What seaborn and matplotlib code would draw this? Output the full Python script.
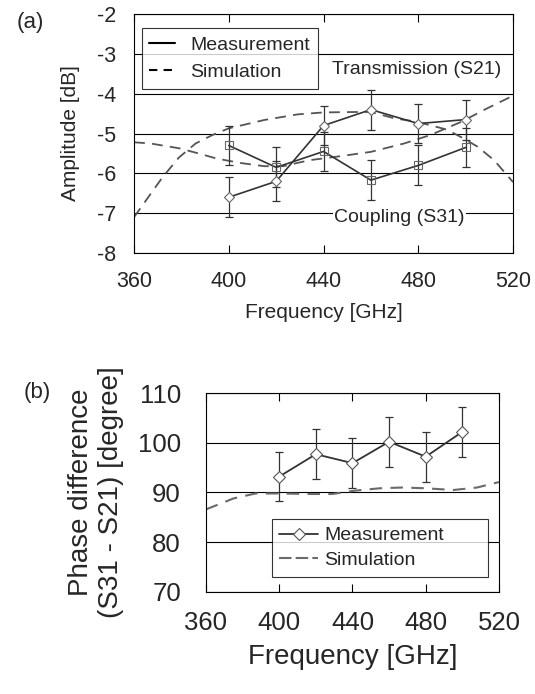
# S21 / S31 amplitude and phase difference vs frequency
import numpy as np
import pandas as pd
import matplotlib
matplotlib.use("Agg")
import matplotlib.pyplot as plt
import seaborn as sns
from matplotlib.lines import Line2D

sns.set_theme(style="white")
plt.rcParams['font.family'] = ['Liberation Sans', 'DejaVu Sans']
plt.rcParams['axes.unicode_minus'] = False

# measured frequencies [GHz]
freq_meas = [400, 420, 440, 460, 480, 500]

# (a) amplitude [dB]
s21_meas = [-6.6, -6.2, -4.8, -4.4, -4.75, -4.65]
s31_meas = [-5.3, -5.85, -5.45, -6.17, -5.8, -5.35]
amp_err = [0.5, 0.5, 0.5, 0.5, 0.5, 0.5]

# (a) simulation curves
freq_sim_a = [360, 366, 372, 379, 386, 393, 400, 415, 429, 440, 453, 460,
              470, 479, 492, 499, 505, 512, 520]
s21_sim = [-7.1, -6.6, -6.1, -5.6, -5.25, -5.04, -4.87, -4.66, -4.52, -4.47,
           -4.46, -4.46, -4.62, -4.7, -4.9, -5.12, -5.33, -5.67, -6.22]
freq_sim_c = [360, 367, 379, 386, 395, 405, 415, 423, 434, 447, 460, 474,
              485, 498, 509, 520]
s31_sim = [-5.22, -5.25, -5.37, -5.48, -5.63, -5.74, -5.82, -5.82, -5.67,
           -5.57, -5.46, -5.25, -5.04, -4.71, -4.37, -4.05]

# (b) phase difference [degree]
phase_meas = [93.2, 97.7, 95.9, 100.2, 97.2, 102.2]
phase_err = [5, 5, 5, 5, 5, 5]
freq_sim_b = [360, 375, 387, 400, 418, 429, 442, 455, 467, 480, 495, 508, 520]
phase_sim = [86.6, 88.8, 89.8, 89.8, 89.7, 89.7, 90.4, 90.85, 91.0, 90.85,
             90.5, 91.0, 92.1]

x_ticks = [360, 400, 440, 480, 520]

meas_col = "#333333"
sim_col = "#555555"

fig = plt.figure(figsize=(5.35, 6.94), dpi=100)
ax1 = fig.add_axes([0.2505, 0.6354, 0.7085, 0.3444])
ax2 = fig.add_axes([0.385, 0.147, 0.5477, 0.2867])

# ---- (a) amplitude ----
sim_a = pd.DataFrame({"f": freq_sim_a, "v": s21_sim})
sim_c = pd.DataFrame({"f": freq_sim_c, "v": s31_sim})
sns.lineplot(data=sim_a, x="f", y="v", ax=ax1, color=sim_col, lw=1.3,
             linestyle=(0, (6, 4)))
sns.lineplot(data=sim_c, x="f", y="v", ax=ax1, color=sim_col, lw=1.3,
             linestyle=(0, (6, 4)))

meas_a = pd.DataFrame({"f": freq_meas, "s21": s21_meas, "s31": s31_meas})
ax1.errorbar(freq_meas, s21_meas, yerr=amp_err, fmt="none", ecolor=meas_col,
             elinewidth=0.9, capsize=3, capthick=0.9)
ax1.errorbar(freq_meas, s31_meas, yerr=amp_err, fmt="none", ecolor=meas_col,
             elinewidth=0.9, capsize=3, capthick=0.9)
sns.lineplot(data=meas_a, x="f", y="s21", ax=ax1, color=meas_col, lw=1.2,
             marker="D", ms=5, mfc="white", mec="#666666", mew=0.8)
sns.lineplot(data=meas_a, x="f", y="s31", ax=ax1, color=meas_col, lw=1.2,
             marker="s", ms=6, mfc="none", mec="#666666", mew=0.8)

ax1.set_xlim(360, 520)
ax1.set_ylim(-8, -2)
ax1.set_xticks(x_ticks)
ax1.set_yticks(range(-8, -1))
ax1.yaxis.grid(True, color="black", lw=0.8)
ax1.set_axisbelow(True)
ax1.tick_params(axis="x", direction="in", top=True, bottom=True, length=6,
                width=0.8, color="black", labelsize=15.5, pad=13)
ax1.tick_params(axis="y", length=0, labelsize=15.5, pad=13)
ax1.set_xlabel("Frequency [GHz]", fontsize=15, labelpad=8)
ax1.set_ylabel("Amplitude [dB]", fontsize=15, labelpad=12)
for sp in ax1.spines.values():
    sp.set_color("black")
    sp.set_linewidth(0.8)

ax1.text(515, -3.4, "Transmission (S21)", ha="right", va="center", fontsize=14)
ax1.text(472, -7.1, "Coupling (S31)", ha="center", va="center", fontsize=14,
         bbox=dict(facecolor="white", edgecolor="none", pad=1))

handles_a = [Line2D([], [], color="black", lw=1.5),
             Line2D([], [], color="black", lw=1.5, linestyle=(0, (4, 3)))]
leg1 = ax1.legend(handles_a, ["Measurement", "Simulation"], loc="upper left",
                  bbox_to_anchor=(0.02, 0.94), borderaxespad=0, fontsize=14,
                  handlelength=1.3, handletextpad=0.8, labelspacing=0.5,
                  borderpad=0.4, frameon=True, fancybox=False)
leg1.get_frame().set_edgecolor("black")
leg1.get_frame().set_linewidth(0.8)

# ---- (b) phase difference ----
sim_b = pd.DataFrame({"f": freq_sim_b, "v": phase_sim})
meas_b = pd.DataFrame({"f": freq_meas, "v": phase_meas})
sns.lineplot(data=sim_b, x="f", y="v", ax=ax2, color="#6a6a6a", lw=1.5,
             linestyle=(0, (6, 4)))
ax2.errorbar(freq_meas, phase_meas, yerr=phase_err, fmt="none",
             ecolor=meas_col, elinewidth=0.9, capsize=3, capthick=0.9)
sns.lineplot(data=meas_b, x="f", y="v", ax=ax2, color=meas_col, lw=1.3,
             marker="D", ms=6, mfc="white", mec="#555555", mew=0.8)

ax2.set_xlim(360, 520)
ax2.set_ylim(70, 110)
ax2.set_xticks(x_ticks)
ax2.set_yticks([70, 80, 90, 100, 110])
ax2.yaxis.grid(True, color="black", lw=0.8)
ax2.set_axisbelow(True)
ax2.tick_params(axis="x", direction="in", top=True, bottom=True, length=6,
                width=0.8, color="black", labelsize=18.5, pad=14)
ax2.tick_params(axis="y", length=0, labelsize=18.5, pad=18)
ax2.set_xlabel("Frequency [GHz]", fontsize=20, labelpad=6)
ax2.set_ylabel("Phase difference\n(S31 - S21) [degree]", fontsize=20,
               labelpad=10, linespacing=1.2)
for sp in ax2.spines.values():
    sp.set_color("black")
    sp.set_linewidth(0.8)

handles_b = [Line2D([], [], color=meas_col, lw=1.3, marker="D", ms=6,
                    mfc="white", mec="#555555", mew=0.8),
             Line2D([], [], color="#6a6a6a", lw=1.5, linestyle=(0, (6, 2)))]
leg2 = ax2.legend(handles_b, ["Measurement", "Simulation"], loc="lower left",
                  bbox_to_anchor=(0.224, 0.077, 0.739, 0.293), mode="expand",
                  borderaxespad=0, fontsize=14,
                  handlelength=2.0, handletextpad=0.3, labelspacing=0.35,
                  borderpad=0.4, frameon=True, fancybox=False)
leg2.get_frame().set_edgecolor("black")
leg2.get_frame().set_linewidth(0.8)

fig.text(0.056, 0.967, "(a)", fontsize=16, ha="center", va="center")
fig.text(0.069, 0.435, "(b)", fontsize=16, ha="center", va="center")

fig.savefig("out.png", dpi=100)
